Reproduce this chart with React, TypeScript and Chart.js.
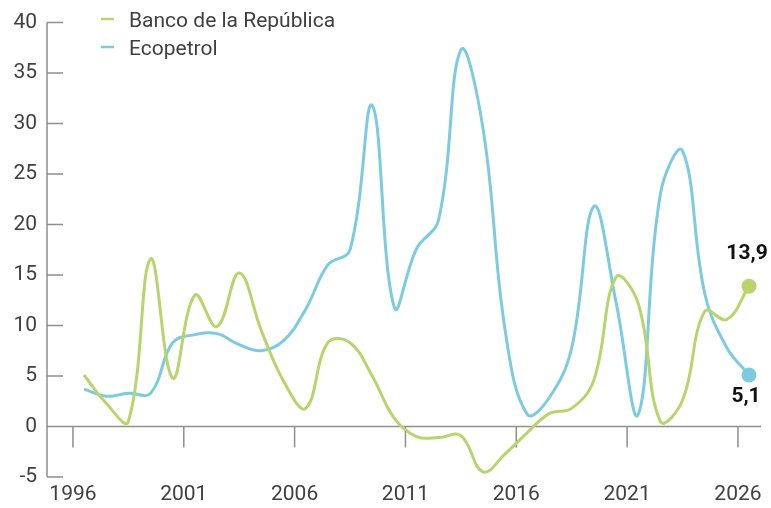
import React, { useEffect, useRef } from "react";
import { Chart, registerables } from "chart.js";

Chart.register(...registerables);

// ---- data ----
const years = [
  1996, 1997, 1998, 1999, 2000, 2001, 2002, 2003, 2004, 2005, 2006, 2007, 2008, 2009, 2010, 2011,
  2012, 2013, 2014, 2015, 2016, 2017, 2018, 2019, 2020, 2021, 2022, 2023, 2024, 2025, 2026,
];
const banco = [
  5.1, 2.3, 0.5, 16.6, 4.8, 13.0, 9.9, 15.2, 9.5, 4.5, 1.8, 8.3, 8.3, 5.0, 0.8, -1.0,
  -1.1, -0.9, -4.5, -2.7, -0.6, 1.3, 1.8, 4.6, 14.8, 12.2, 0.5, 2.6, 11.4, 10.6, 13.9,
];
const ecopetrol = [
  3.7, 3.0, 3.3, 3.3, 8.3, 9.1, 9.2, 8.1, 7.5, 8.5, 11.6, 16.0, 17.5, 31.8, 11.8, 17.6,
  20.5, 37.3, 29.5, 9.5, 1.2, 2.9, 7.8, 21.8, 12.3, 1.2, 23.0, 27.3, 13.2, 7.8, 5.1,
];
const seriesNames = ["Banco de la República", "Ecopetrol"];
const endLabels = ["13,9", "5,1"];
const yTicks = [-5, 0, 5, 10, 15, 20, 25, 30, 35, 40];
const xTickYears = [1996, 2001, 2006, 2011, 2016, 2021, 2026];

// ---- style ----
const GREEN = "#b8d46c";
const BLUE = "#7ccbe1";
const AXIS = "#8f8f8f";
const TEXT = "#404040";
const FONT = "Roboto, 'Open Sans', sans-serif";
const FS = 21;

const axesPlugin = {
  id: "customAxes",
  beforeDatasetsDraw(chart: any) {
    const { ctx, chartArea, scales } = chart;
    const x = scales.x;
    const y = scales.y;
    ctx.save();
    ctx.strokeStyle = AXIS;
    ctx.lineWidth = 1.5;
    const left = chartArea.left;
    ctx.beginPath();
    ctx.moveTo(left, y.getPixelForValue(yTicks[yTicks.length - 1]));
    ctx.lineTo(left, y.getPixelForValue(yTicks[0]));
    yTicks.forEach((v) => {
      const py = y.getPixelForValue(v);
      ctx.moveTo(left, py);
      ctx.lineTo(left + 16, py);
    });
    const y0 = y.getPixelForValue(0);
    ctx.moveTo(left, y0);
    ctx.lineTo(chartArea.right, y0);
    xTickYears.forEach((v) => {
      const px = x.getPixelForValue(v);
      ctx.moveTo(px, y0);
      ctx.lineTo(px, y0 + 21);
    });
    ctx.stroke();
    ctx.restore();
  },
  afterDatasetsDraw(chart: any) {
    const { ctx, scales } = chart;
    const x = scales.x;
    const y = scales.y;
    ctx.save();
    // legend
    const colors = [GREEN, BLUE];
    ctx.font = `${FS}px ${FONT}`;
    ctx.textBaseline = "alphabetic";
    ctx.textAlign = "left";
    seriesNames.forEach((name, i) => {
      const my = 19 + 28 * i;
      ctx.strokeStyle = colors[i];
      ctx.lineWidth = 2.5;
      ctx.beginPath();
      ctx.moveTo(101, my);
      ctx.lineTo(114, my);
      ctx.stroke();
      ctx.fillStyle = TEXT;
      ctx.fillText(name, 129, my + 8);
    });
    // end labels
    ctx.font = `bold ${FS}px ${FONT}`;
    ctx.fillStyle = "#111";
    ctx.textAlign = "center";
    ctx.textBaseline = "middle";
    const last = years.length - 1;
    const lx = x.getPixelForValue(years[last] + 0.5);
    ctx.fillText(endLabels[0], lx - 2, y.getPixelForValue(banco[last]) - 32);
    ctx.fillText(endLabels[1], lx - 3, y.getPixelForValue(ecopetrol[last]) + 22);
    ctx.restore();
  },
};

export default function App() {
  const ref = useRef<HTMLCanvasElement>(null);
  useEffect(() => {
    if (!ref.current) return;
    const last = years.length - 1;
    const mk = (label: string, vals: number[], color: string) => ({
      label,
      data: years.map((yr, i) => ({ x: yr + 0.5, y: vals[i] })),
      borderColor: color,
      backgroundColor: color,
      borderWidth: 3,
      tension: 0.4,
      fill: false,
      pointRadius: years.map((_, i) => (i === last ? 7.5 : 0)),
      pointBackgroundColor: color,
      pointBorderWidth: 0,
      pointHoverRadius: 0,
    });
    const chart = new Chart(ref.current, {
      type: "line",
      data: {
        datasets: [mk(seriesNames[0], banco, GREEN), mk(seriesNames[1], ecopetrol, BLUE)],
      },
      options: {
        responsive: false,
        animation: false,
        layout: { padding: { top: 20, right: 10, left: 0, bottom: 0 } },
        plugins: { legend: { display: false }, tooltip: { enabled: false } },
        scales: {
          x: {
            type: "linear",
            min: 1994.83,
            max: 2027.04,
            afterBuildTicks: (s: any) => {
              s.ticks = xTickYears.map((v) => ({ value: v }));
            },
            afterFit: (s: any) => {
              s.height = 31;
            },
            ticks: {
              callback: (v: any) => String(v),
              font: { family: FONT, size: FS },
              color: TEXT,
              padding: 5,
              maxRotation: 0,
              autoSkip: false,
            },
            grid: { display: false, drawTicks: false },
            border: { display: false },
          },
          y: {
            min: -5,
            max: 40,
            afterBuildTicks: (s: any) => {
              s.ticks = yTicks.map((v) => ({ value: v }));
            },
            afterFit: (s: any) => {
              s.width = 47;
            },
            ticks: {
              callback: (v: any) => String(v),
              font: { family: FONT, size: FS },
              color: TEXT,
              padding: 10,
            },
            grid: { display: false, drawTicks: false },
            border: { display: false },
          },
        },
      },
      plugins: [axesPlugin],
    } as any);
    return () => chart.destroy();
  }, []);
  return (
    <div style={{ position: "fixed", left: 0, top: 0, width: 771, height: 508, background: "#fff" }}>
      <canvas ref={ref} width={771} height={508} style={{ display: "block" }} />
    </div>
  );
}
